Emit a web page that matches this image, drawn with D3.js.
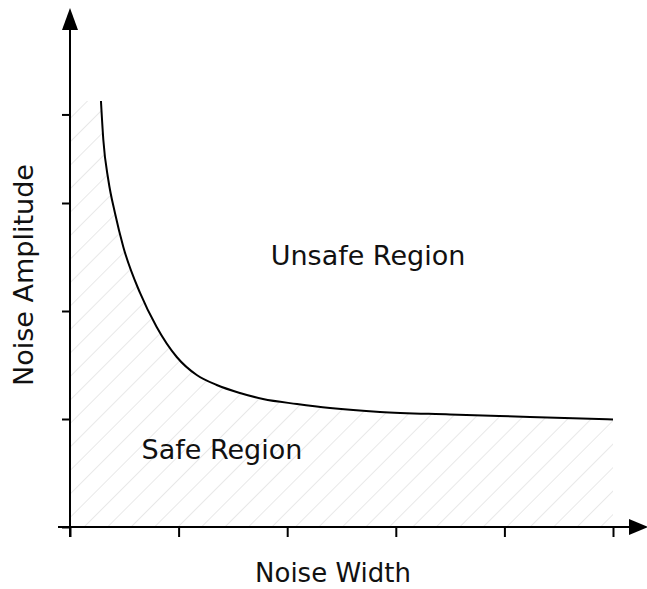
<!DOCTYPE html>
<html>
<head>
<meta charset="utf-8">
<script src="https://cdn.jsdelivr.net/npm/d3@7"></script>
<style>
  body { margin: 0; background: white; }
  text { font-family: "DejaVu Sans", Verdana, sans-serif; fill: #111; }
</style>
</head>
<body>
<div id="vis"></div>
<script>
// boundary between safe and unsafe
var noiseWidth = [0.285, 0.307, 0.353, 0.414, 0.491, 0.645, 0.798, 0.983, 1.167, 1.351,
                  1.565, 1.777, 2.090, 2.394, 2.855, 3.499, 4.236, 5.0];
var noiseAmp   = [3.944, 3.583, 3.213, 2.907, 2.593, 2.167, 1.852, 1.574, 1.407, 1.315,
                  1.241, 1.185, 1.139, 1.102, 1.065, 1.042, 1.019, 0.995];

// tick positions (no labels on this chart)
var xTicks = [0, 1, 2, 3, 4, 5];
var yTicks = [0, 1, 2, 3, 3.82];

var regionLabels = ["Unsafe Region", "Safe Region"];

var svgWidth = 647, svgHeight = 589;

var svg = d3.select('#vis').append('svg')
  .attr('width', svgWidth)
  .attr('height', svgHeight);

var xScale = d3.scaleLinear().domain([0, 5]).range([70, 613]);
var yScale = d3.scaleLinear().domain([0, 4]).range([527, 95]);

var data = noiseWidth.map(function (v, i) { return {x: v, y: noiseAmp[i]}; });

// hatch pattern
var defs = svg.append('defs');
defs.append('pattern')
  .attr('id', 'hatch')
  .attr('patternUnits', 'userSpaceOnUse')
  .attr('width', 16.6)
  .attr('height', 16.6)
  .attr('patternTransform', 'rotate(45)')
  .append('line')
  .attr('x1', 0).attr('y1', 0)
  .attr('x2', 0).attr('y2', 16.6)
  .attr('stroke', '#d9d9d9')
  .attr('stroke-width', 1.2);

// safe area: from y axis, under the curve, down to x axis
var areaData = [{x: 0, y: data[0].y}].concat(data);
var makeArea = d3.area()
  .x(function (d) { return xScale(d.x); })
  .y0(yScale(0))
  .y1(function (d) { return yScale(d.y); })
  .curve(d3.curveMonotoneX);

svg.append('path')
  .attr('d', makeArea(areaData))
  .attr('fill', 'url(#hatch)');

// the boundary curve
var makeLine = d3.line()
  .x(function (d) { return xScale(d.x); })
  .y(function (d) { return yScale(d.y); })
  .curve(d3.curveMonotoneX);

svg.append('path')
  .attr('d', makeLine(data))
  .attr('fill', 'none')
  .attr('stroke', 'black')
  .attr('stroke-width', 2);

// axes: ticks from d3, lines drawn by hand so they run past the origin
svg.append('g')
  .attr('transform', 'translate(0,' + yScale(0) + ')')
  .call(d3.axisBottom(xScale).tickValues(xTicks).tickFormat('').tickSizeInner(10).tickSizeOuter(0))
  .call(function (g) { g.select('.domain').remove(); })
  .selectAll('line').attr('stroke-width', 2);

svg.append('g')
  .attr('transform', 'translate(' + xScale(0) + ',0)')
  .call(d3.axisLeft(yScale).tickValues(yTicks).tickFormat('').tickSizeInner(8).tickSizeOuter(0))
  .call(function (g) { g.select('.domain').remove(); })
  .selectAll('line').attr('stroke-width', 2);

svg.append('line')
  .attr('x1', 58).attr('y1', yScale(0))
  .attr('x2', 636).attr('y2', yScale(0))
  .attr('stroke', 'black').attr('stroke-width', 2);

svg.append('line')
  .attr('x1', xScale(0)).attr('y1', 537)
  .attr('x2', xScale(0)).attr('y2', 20)
  .attr('stroke', 'black').attr('stroke-width', 2);

// arrow heads
var ox = xScale(0), oy = yScale(0);
svg.append('path')
  .attr('d', 'M' + (ox - 8) + ',30 L' + ox + ',8 L' + (ox + 8) + ',30 Z')
  .attr('fill', 'black');
svg.append('path')
  .attr('d', 'M629,' + (oy - 8) + ' L648,' + oy + ' L629,' + (oy + 8) + ' Z')
  .attr('fill', 'black');

// axis titles
svg.append('text')
  .attr('x', 333).attr('y', 582)
  .attr('text-anchor', 'middle')
  .style('font-size', '26px')
  .text('Noise Width');

svg.append('text')
  .attr('transform', 'translate(33,275) rotate(-90)')
  .attr('text-anchor', 'middle')
  .style('font-size', '27px')
  .text('Noise Amplitude');

// region labels
svg.append('text')
  .attr('x', 368).attr('y', 265)
  .attr('text-anchor', 'middle')
  .style('font-size', '27px')
  .text(regionLabels[0]);

svg.append('text')
  .attr('x', 222).attr('y', 459)
  .attr('text-anchor', 'middle')
  .style('font-size', '27px')
  .text(regionLabels[1]);
</script>
</body>
</html>
